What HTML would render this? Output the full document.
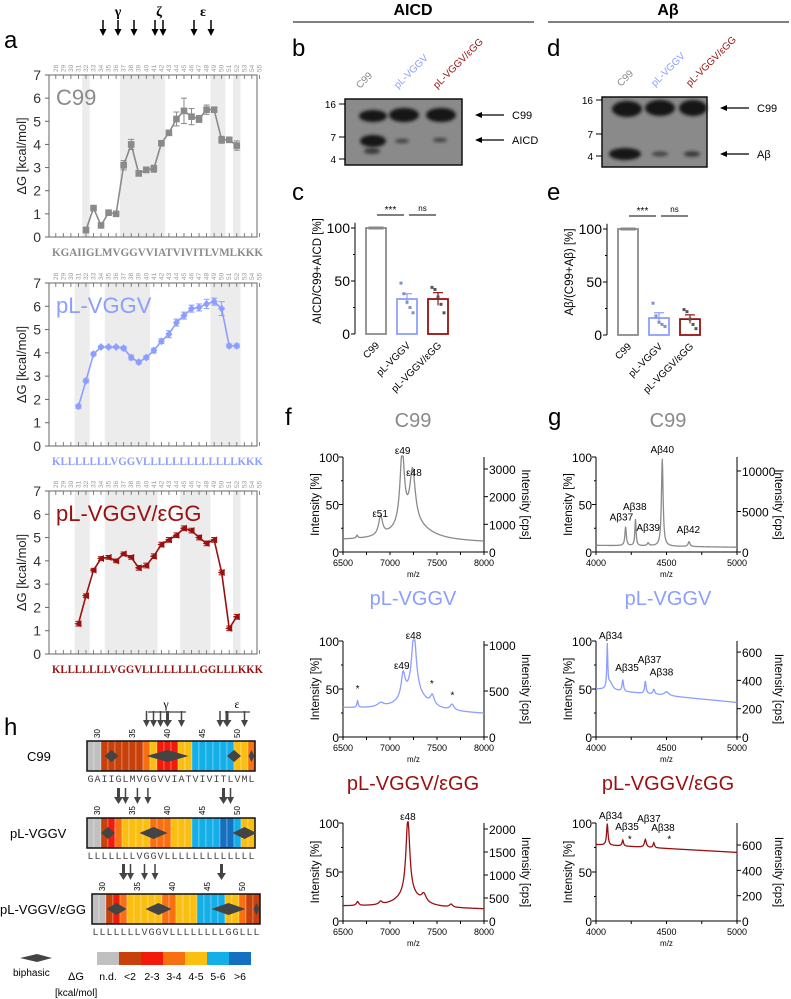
<!DOCTYPE html>
<html><head><meta charset="utf-8">
<style>
html,body{margin:0;padding:0;background:#fff;}
svg{display:block;font-family:"Liberation Sans",Arial,sans-serif;}
</style></head>
<body>
<svg id="fig" width="791" height="999" viewBox="0 0 791 999" xmlns="http://www.w3.org/2000/svg">
<defs><filter id="blur" x="-50%" y="-50%" width="200%" height="200%"><feGaussianBlur stdDeviation="1.6"/></filter></defs>
</svg>
<script>
// ---------- DATA ----------
const aResidues = [28,29,30,31,32,33,34,35,36,37,38,39,40,41,42,43,44,45,46,47,48,49,50,51,52,53,54,55];
const c99Start = 32;
const c99Vals = [0.3,1.25,0.5,1.05,1.0,3.1,4.0,2.75,2.9,2.95,4.05,4.5,5.1,5.45,5.2,5.1,5.5,5.5,4.2,4.2,3.95];
const c99Err  = [0.12,0.05,0.08,0.05,0.05,0.2,0.22,0.12,0.12,0.15,0.08,0.1,0.3,0.55,0.35,0.15,0.2,0.05,0.15,0.12,0.2];
const pLStart = 31;
const pLVals = [1.7,2.8,3.95,4.25,4.25,4.25,4.2,3.8,3.6,3.8,4.1,4.5,4.8,5.3,5.6,5.9,5.95,6.1,6.2,5.9,4.3,4.3];
const pLErr  = [0.08,0.08,0.08,0.05,0.05,0.05,0.08,0.1,0.08,0.08,0.1,0.1,0.15,0.15,0.15,0.15,0.15,0.2,0.15,0.3,0.08,0.08];
const eggStart = 31;
const eggVals = [1.3,2.5,3.6,4.1,4.15,4.0,4.3,4.15,3.7,3.8,4.2,4.7,4.9,5.1,5.4,5.3,5.0,4.75,4.9,3.5,1.1,1.6];
const eggErr  = [0.1,0.08,0.08,0.08,0.08,0.08,0.08,0.08,0.1,0.1,0.1,0.1,0.1,0.1,0.1,0.1,0.1,0.1,0.1,0.1,0.1,0.1];
const c99Shades = [[32,32],[37,42],[49,50],[52,52]];
const pLShades = [[31,32],[35,40],[49,52]];
const eggShades = [[31,32],[35,41],[45,48],[52,52]];
const c99Seq = "KGAIIGLMVGGVVIATVIVITLVMLKKK";
const pLSeq  = "KLLLLLLLVGGVLLLLLLLLLLLLLKKK";
const eggSeq = "KLLLLLLLVGGVLLLLLLLLGGLLLKKK";
const barCats = ["C99","pL-VGGV","pL-VGGV/εGG"];
const aicdVals = [100,33,33];
const aicdErr = [0,5,6];
const aicdPts = [[100,100,100,100,100],[48,38,30,25,20],[44,42,35,28,20]];
const abVals = [100,16,15];
const abErr = [0,5,4];
const abPts = [[100,100,100,100,100],[30,18,12,10,8],[24,22,15,10,6]];
const f1Base=[12,10], f1Pos=[6650,6900,7130,7240,7230], f1H=[3,20,78,55,18], f1W=[10,25,28,35,220];
const f2Base=[30,24], f2Pos=[6655,6900,7140,7255,7250,7450,7660], f2H=[7,4,25,62,18,10,6], f2W=[8,40,25,30,160,25,25];
const f3Base=[15,12], f3Pos=[6655,6900,7190,7200,7360,7650], f3H=[4,3,78,12,8,3], f3W=[15,20,25,160,30,20];
const g1Base=[7,5], g1Pos=[4210,4280,4370,4470,4660], g1H=[20,28,3,92,5], g1W=[6,5,8,7,8];
const g2Base=[50,36], g2Pos=[4080,4100,4190,4350,4410,4500], g2H=[45,8,12,13,5,4], g2W=[4,20,6,6,8,20];
const g3Base=[78,70], g3Pos=[4080,4190,4350,4410], g3H=[22,6,8,5], g3W=[6,6,8,6];
const hRes = [29,30,31,32,33,34,35,36,37,38,39,40,41,42,43,44,45,46,47,48,49,50,51,52];
const legendLabels = ["n.d.","<2","2-3","3-4","4-5","5-6",">6"];
const legendColors = ["#c0c0c0","#c8400a","#f21a0a","#f87010","#fbbf12","#14aee8","#1670c2"];

// ---------- HELPERS ----------
const NS='http://www.w3.org/2000/svg';
const svg=document.getElementById('fig');
function mk(tag, attrs, name){
  const e=document.createElementNS(NS,tag);
  for(const k in attrs) e.setAttribute(k,attrs[k]);
  
  
  svg.appendChild(e); return e;
}
function txt(x,y,s,attrs,name){ const t=mk('text',Object.assign({x:x,y:y},attrs||{}),name); t.textContent=s; return t; }
function line(x1,y1,x2,y2,st,sw,name){ return mk('line',{x1,y1,x2,y2,stroke:st,'stroke-width':sw},name); }
const GRAY="#8a8a8a", BLUE="#8c9eff", RED="#9a1010";

// ---------- HEADERS & PANEL LETTERS ----------
txt(413,15,"AICD",{'font-size':16,'font-weight':'bold','text-anchor':'middle'},"aicd-header");
line(293,22,534,22,"#000",1,"aicd-header-rule");
txt(668,15,"Aβ",{'font-size':16,'font-weight':'bold','text-anchor':'middle'},"abeta-header");
line(548,22,789,22,"#000",1,"abeta-header-rule");
[["a",4,48],["b",292,56],["c",292,200],["d",547,56],["e",547,200],["f",285,425],["g",548,425],["h",4,735]].forEach(p=>{
  txt(p[1],p[2],p[0],{'font-size':24},"panel-label-"+p[0]);
});

// ---------- PANEL A ----------
const xRes = r => 55.8 + (r-28)*7.54;
function drawA(top,bottom,vals,start,err,color,marker,shades,seq,title,id){
  const yv = v => bottom-(v/7)*(bottom-top);
  shades.forEach(s=>{ mk('rect',{x:xRes(s[0])-3.77,y:top,width:(s[1]-s[0]+1)*7.54,height:bottom-top,fill:'#ececec'},id+"-shade"); });
  mk('rect',{x:49,y:top,width:208,height:bottom-top,fill:'none',stroke:'#666','stroke-width':1},id+"-plot-frame");
  for(let v=0;v<=7;v++){
    line(45,yv(v),49,yv(v),"#666",1,id+"-y-tick");
    txt(41,yv(v)+5,String(v),{'font-size':14,'text-anchor':'end',fill:'#333'},id+"-y-tick-label");
  }
  aResidues.forEach(r=>{
    line(xRes(r),top,xRes(r),top+4,"#666",0.8,id+"-top-tick");
    line(xRes(r),bottom,xRes(r),bottom-4,"#666",0.8,id+"-bottom-tick");
    txt(xRes(r)+2,top-3,String(r),{'font-size':6.5,fill:'#999',transform:`rotate(-90 ${xRes(r)+2} ${top-3})`},id+"-residue-number");
  });
  const pts = vals.map((v,i)=>[xRes(start+i),yv(v)]);
  mk('polyline',{points:pts.map(p=>p.join(',')).join(' '),fill:'none',stroke:color,'stroke-width':1.6},id+"-series-line");
  vals.forEach((v,i)=>{
    const x=xRes(start+i), y=yv(v), e=err[i];
    line(x,yv(v+e),x,yv(v-e),color,1,id+"-error-bar");
    line(x-3,yv(v+e),x+3,yv(v+e),color,1,id+"-error-cap");
    line(x-3,yv(v-e),x+3,yv(v-e),color,1,id+"-error-cap");
    if(marker==='square') mk('rect',{x:x-3.3,y:y-3.3,width:6.6,height:6.6,fill:color},id+"-point");
    else if(marker==='diamond') mk('polygon',{points:`${x},${y-4} ${x+3.5},${y} ${x},${y+4} ${x-3.5},${y}`,fill:color},id+"-point");
    else mk('polygon',{points:`${x-4},${y} ${x+3},${y-3.5} ${x+3},${y+3.5}`,fill:color},id+"-point");
  });
  txt(56,top+30,title,{'font-size':22,fill:color},id+"-title");
  txt(52,bottom+19,seq,{'font-size':11.5,'font-family':'"Liberation Serif",serif','font-weight':'bold',textLength:211,lengthAdjust:'spacingAndGlyphs',fill:color},id+"-sequence");
  const cy=(top+bottom)/2;
  txt(26,cy,"ΔG [kcal/mol]",{'font-size':13,'text-anchor':'middle',transform:`rotate(-90 26 ${cy})`,fill:'#222'},id+"-y-axis-title");
}
drawA(75,237,c99Vals,c99Start,c99Err,GRAY,'square',c99Shades,c99Seq,"C99","c99-profile");
drawA(283,446,pLVals,pLStart,pLErr,BLUE,'diamond',pLShades,pLSeq,"pL-VGGV","plvggv-profile");
drawA(491,654,eggVals,eggStart,eggErr,RED,'triangle',eggShades,eggSeq,"pL-VGGV/εGG","plvggv-egg-profile");
[[103],[118],[134],[155],[163],[194],[211]].forEach(a=>{
  line(a[0],20,a[0],31,"#000",1.5,"cleavage-arrow");
  mk('polygon',{points:`${a[0]-3.5},29 ${a[0]+3.5},29 ${a[0]},36`,fill:'#000'},"cleavage-arrowhead");
});
txt(118,16,"γ",{'font-size':14,'font-weight':'bold','text-anchor':'middle','font-family':'"Liberation Serif",serif'},"gamma-label");
txt(159,16,"ζ",{'font-size':14,'font-weight':'bold','text-anchor':'middle','font-family':'"Liberation Serif",serif'},"zeta-label");
txt(203,16,"ε",{'font-size':14,'font-weight':'bold','text-anchor':'middle','font-family':'"Liberation Serif",serif'},"epsilon-label");

// ---------- BLOTS b, d ----------
function blot(x,y,w,h,marks,bands,arrows,lanes,id){
  mk('rect',{x,y,width:w,height:h,fill:'#8a8a8a',stroke:'#111','stroke-width':1.5},id+"-membrane");
  bands.forEach(b=>{ mk('ellipse',{cx:b[0],cy:b[1],rx:b[2],ry:b[3],fill:'#141414',opacity:b[4],filter:'url(#blur)'},id+"-band"); });
  marks.forEach(m=>{ line(x-6,m[1],x,m[1],"#000",1,id+"-marker-tick"); txt(x-9,m[1]+4,m[0],{'font-size':10,'text-anchor':'end'},id+"-marker-label"); });
  arrows.forEach(a=>{
    line(x+w+18,a[1],x+w+42,a[1],"#000",1.3,id+"-arrow");
    mk('polygon',{points:`${x+w+13},${a[1]} ${x+w+20},${a[1]-3} ${x+w+20},${a[1]+3}`,fill:'#000'},id+"-arrowhead");
    txt(x+w+50,a[1]+4,a[0],{'font-size':11},id+"-band-label");
  });
  lanes.forEach((l,i)=>{ txt(l[0],y-10,barCats[i],{'font-size':10,fill:[GRAY,BLUE,RED][i],transform:`rotate(-45 ${l[0]} ${y-10})`},id+"-lane-label"); });
}
blot(345,99,117,66,[["16",104],["7",137],["4",159]],
  [[373,116,14,6,1],[404,115,15,7,1],[441,115,15,7,1],[373,141,13,6,1],[372,151,8,3,0.7],[402,141,7,2.2,0.6],[440,140,7,2.2,0.6]],
  [["C99",115],["AICD",140]],[[360],[398],[437]],"aicd-blot");
blot(602,97,105,70,[["16",100],["7",134],["4",156]],
  [[627,109,15,8,1],[660,108,15,8,1],[693,108,14,8,1],[625,154,16,6,1],[660,154,8,2.5,0.6],[692,154,8,2.8,0.7]],
  [["C99",108],["Aβ",154]],[[621],[655],[690]],"abeta-blot");

// ---------- BAR CHARTS c, e ----------
function barChart(ax,y0,y100,vals,errs,pts,xs,ylab,id){
  const yv=v=>y0-(v/100)*(y0-y100);
  line(ax,yv(0),ax,yv(105),"#000",1,id+"-y-axis");
  [0,50,100].forEach(v=>{ line(ax-4,yv(v),ax,yv(v),"#000",1,id+"-y-tick"); txt(ax-5,yv(v)+5,String(v),{'font-size':14,'text-anchor':'end'},id+"-y-tick-label"); });
  [25,75].forEach(v=>line(ax-2,yv(v),ax,yv(v),"#000",1,id+"-y-minor-tick"));
  const cols=[GRAY,BLUE,RED];
  vals.forEach((v,i)=>{
    const cx=xs[i];
    mk('rect',{x:cx-10,y:yv(v),width:20,height:yv(0)-yv(v),fill:'#fff',stroke:cols[i],'stroke-width':1.8},id+"-bar-"+i);
    if(errs[i]>0){ line(cx,yv(v-errs[i]),cx,yv(v+errs[i]),cols[i],1.2,id+"-error-bar"); line(cx-5,yv(v+errs[i]),cx+5,yv(v+errs[i]),cols[i],1.2,id+"-error-cap"); }
    pts[i].forEach((p,j)=>{ const px=cx+(j-2)*3; mk('rect',{x:px-1.5,y:yv(p)-1.5,width:3,height:3,fill:i===0?'#888':(i===1?'#8090d0':'#555')},id+"-data-point"); });
    txt(cx+4,yv(0)+12,barCats[i],{'font-size':10,'text-anchor':'end',transform:`rotate(-45 ${cx+4} ${yv(0)+12})`},id+"-x-label");
  });
  line(xs[0]+1,y100-13,xs[1]-3,y100-13,"#000",1,id+"-sig-line-1");
  txt((xs[0]+xs[1])/2-1,y100-15,"***",{'font-size':10,'text-anchor':'middle'},id+"-sig-label-1");
  line(xs[1]+2,y100-13,xs[2]-2,y100-13,"#000",1,id+"-sig-line-2");
  txt((xs[1]+xs[2])/2,y100-17,"ns",{'font-size':8,'text-anchor':'middle'},id+"-sig-label-2");
  const cy=(y0+y100)/2-10;
  txt(ax-34,cy,ylab,{'font-size':11.5,'text-anchor':'middle',transform:`rotate(-90 ${ax-34} ${cy})`},id+"-y-axis-title");
}
barChart(355,334,228,aicdVals,aicdErr,aicdPts,[376,407,438],"AICD/C99+AICD [%]","aicd-bar-chart");
barChart(607,335,229,abVals,abErr,abPts,[628,659,690],"Aβ/(C99+Aβ) [%]","abeta-bar-chart");

// ---------- SPECTRA f, g ----------
function spectrum(x0,x1,top,bot,mzMin,mzMax,xticks,base,pos,hs,ws,rmax,rticks,color,labels,id){
  const xm=m=>x0+(m-mzMin)/(mzMax-mzMin)*(x1-x0);
  const yv=v=>bot-(v/100)*(bot-top);
  line(x0,top,x0,bot,"#000",1,id+"-left-axis");
  line(x1,top,x1,bot,"#000",1,id+"-right-axis");
  line(x0,bot,x1,bot,"#000",1,id+"-x-axis");
  [0,50,100].forEach(v=>{ line(x0-4,yv(v),x0,yv(v),"#000",1,id+"-y-tick"); txt(x0-4,yv(v)+5,String(v),{'font-size':12,'text-anchor':'end'},id+"-y-tick-label"); });
  [25,75].forEach(v=>line(x0-2,yv(v),x0,yv(v),"#000",1,id+"-y-minor-tick"));
  rticks.forEach(r=>{ const y=bot-(r/rmax)*(bot-top); line(x1,y,x1+4,y,"#000",1,id+"-right-tick"); txt(x1+5,y+5,String(r),{'font-size':12},id+"-right-tick-label"); });
  const step=(xticks[1]-xticks[0])/2;
  for(let m=mzMin;m<=mzMax;m+=step){ line(xm(m),bot,xm(m),bot+3,"#000",1,id+"-x-tick"); }
  xticks.forEach(t=>txt(xm(t),bot+14,String(t),{'font-size':9,'text-anchor':'middle'},id+"-x-tick-label"));
  txt((x0+x1)/2,bot+25,"m/z",{'font-size':8,'text-anchor':'middle'},id+"-x-axis-title");
  const cy=(top+bot)/2;
  txt(x0-24,cy,"Intensity [%]",{'font-size':11.5,'text-anchor':'middle',transform:`rotate(-90 ${x0-24} ${cy})`},id+"-y-axis-title");
  txt(x1+38,cy,"Intensity [cps]",{'font-size':11.5,'text-anchor':'middle',transform:`rotate(90 ${x1+38} ${cy})`},id+"-right-axis-title");
  const N=400, p=[];
  for(let i=0;i<=N;i++){
    const m=mzMin+(mzMax-mzMin)*i/N;
    let v=base[0]+(base[1]-base[0])*i/N;
    pos.forEach((pp,k)=>{ const d=(m-pp)/ws[k]; v+=hs[k]/(1+d*d); });
    p.push(xm(m).toFixed(2)+','+yv(Math.min(v,101)).toFixed(2));
  }
  mk('polyline',{points:p.join(' '),fill:'none',stroke:color,'stroke-width':1.3},id+"-trace");
  labels.forEach(l=>txt(xm(l[1]),yv(l[2]),l[0],{'font-size':10,'text-anchor':'middle'},id+"-peak-label"));
}
const fT=[6500,7000,7500,8000], gT=[4000,4500,5000];
spectrum(343,484,457,552,6500,8000,fT,f1Base,f1Pos,f1H,f1W,3433,[0,1000,2000,3000],GRAY,[["ε51",6895,37],["ε49",7135,103],["ε48",7255,80]],"ms-aicd-c99");
spectrum(596,737,457,552,4000,5000,gT,g1Base,g1Pos,g1H,g1W,11724,[0,5000,10000],GRAY,[["Aβ40",4470,104],["Aβ38",4275,44],["Aβ37",4180,33],["Aβ39",4370,22],["Aβ42",4655,20]],"ms-abeta-c99");
spectrum(343,484,641,737,6500,8000,fT,f2Base,f2Pos,f2H,f2W,1044,[0,500,1000],BLUE,[["ε48",7250,102],["ε49",7125,71],["*",6655,47],["*",7445,52],["*",7665,40]],"ms-aicd-plvggv");
spectrum(596,737,641,737,4000,5000,gT,g2Base,g2Pos,g2H,g2W,678,[0,200,400,600],BLUE,[["Aβ34",4105,102],["Aβ35",4220,69],["Aβ37",4380,77],["Aβ38",4465,64]],"ms-abeta-plvggv");
spectrum(343,484,823,921,6500,8000,fT,f3Base,f3Pos,f3H,f3W,2130,[0,500,1000,1500,2000],RED,[["ε48",7190,103]],"ms-aicd-egg");
spectrum(596,737,823,921,4000,5000,gT,g3Base,g3Pos,g3H,g3W,774,[0,200,400,600],RED,[["Aβ34",4105,104],["Aβ35",4220,93],["Aβ37",4375,101],["Aβ38",4475,92],["*",4240,80],["*",4520,80]],"ms-abeta-egg");
[[413,427,"C99",GRAY],[668,427,"C99",GRAY],[413,605,"pL-VGGV",BLUE],[668,605,"pL-VGGV",BLUE],[413,790,"pL-VGGV/εGG",RED],[668,790,"pL-VGGV/εGG",RED]].forEach(t=>{
  txt(t[0],t[1],t[2],{'font-size':20,'text-anchor':'middle',fill:t[3]},"ms-panel-title");
});

// ---------- PANEL H ----------
function cat(v,r){ if(v===undefined) return r<=30?0:1; if(v<2) return 1; if(v<3) return 2; if(v<4) return 3; if(v<5) return 4; if(v<6) return 5; return 6; }
function hBar(x0,top,vals,start,seq,dia,arrows,label,lx,id){
  const cw=7, h=30;
  hRes.forEach((r,i)=>{
    const v=vals[r-start];
    mk('rect',{x:x0+i*cw,y:top,width:cw,height:h,fill:legendColors[cat(v,r)],stroke:'#fff','stroke-width':0.4,'stroke-opacity':0.7},id+"-cell");
    if(r%5===0) txt(x0+i*cw+6,top-3,String(r),{'font-size':8,transform:`rotate(-90 ${x0+i*cw+6} ${top-3})`},id+"-residue-number");
  });
  mk('rect',{x:x0,y:top,width:cw*24,height:h,fill:'none',stroke:'#111','stroke-width':1.5},id+"-frame");
  dia.forEach(d=>{ const cx=x0+(d[0]-29+0.5)*cw, w=d[1]/2; mk('polygon',{points:`${cx-w},${top+15} ${cx},${top+9} ${cx+w},${top+15} ${cx},${top+21}`,fill:'#444'},id+"-biphasic-marker"); });
  for(let i=0;i<seq.length;i++) txt(x0+i*cw+3.5,top+h+11,seq[i],{'font-size':10,'text-anchor':'middle','font-family':'"Liberation Mono",monospace',fill:'#444'},id+"-sequence-letter");
  arrows.forEach(a=>{ const cx=x0+(a[0]-29+0.5)*cw, sw=a[1]?3:1.5; line(cx,top-30,cx,top-20,"#444",sw,id+"-cleavage-arrow"); mk('polygon',{points:`${cx-3.5-(a[1]?1:0)},${top-21} ${cx+3.5+(a[1]?1:0)},${top-21} ${cx},${top-14}`,fill:'#444'},id+"-cleavage-arrowhead"); });
  txt(lx,top+20,label,{'font-size':13},id+"-label");
}
hBar(87,741,c99Vals,c99Start,"GAIIGLMVGGVVIATVIVITLVML",[[32,14],[40,42],[49.5,14],[52,6]],[[37,0],[38,0],[39,0],[40,1],[42,0],[47.5,0],[48.5,1],[51,0]],"C99",27,"h-c99");
hBar(87,818,pLVals,pLStart,"LLLLLLLVGGVLLLLLLLLLLLLL",[[31.5,14],[38,28],[51,24]],[[33,1],[34,0],[35.7,0],[37.2,0],[48,1],[49,0]],"pL-VGGV",10,"h-plvggv");
hBar(92,894,eggVals,eggStart,"LLLLLLLVGGVLLLLLLLLGGLLL",[[32,20],[38,26],[48,34],[52,6]],[[33,1],[34,0],[36,0],[37.5,0],[47,1]],"pL-VGGV/εGG",0,"h-plvggv-egg");
line(148,712,186,712,"#444",1.2,"h-gamma-bracket");
txt(166,708,"γ",{'font-size':12,'text-anchor':'middle','font-family':'"Liberation Serif",serif'},"h-gamma-label");
line(225,712,250,712,"#444",1.2,"h-epsilon-bracket");
txt(237,708,"ε",{'font-size':12,'text-anchor':'middle','font-family':'"Liberation Serif",serif'},"h-epsilon-label");
legendColors.forEach((c,i)=>{ mk('rect',{x:97+i*22,y:952,width:22,height:13,fill:c},"legend-swatch"); });
legendLabels.forEach((l,i)=>{ txt(108+i*22,980,l,{'font-size':10.5,'text-anchor':'middle'},"legend-label"); });
mk('polygon',{points:`20,958 37,954 52,958 37,962`,fill:'#444'},"legend-biphasic-marker");
txt(13,976,"biphasic",{'font-size':10},"legend-biphasic-label");
txt(68,980,"ΔG",{'font-size':11},"legend-dg-label");
txt(55,996,"[kcal/mol]",{'font-size':10},"legend-unit-label");
</script>
</body></html>
